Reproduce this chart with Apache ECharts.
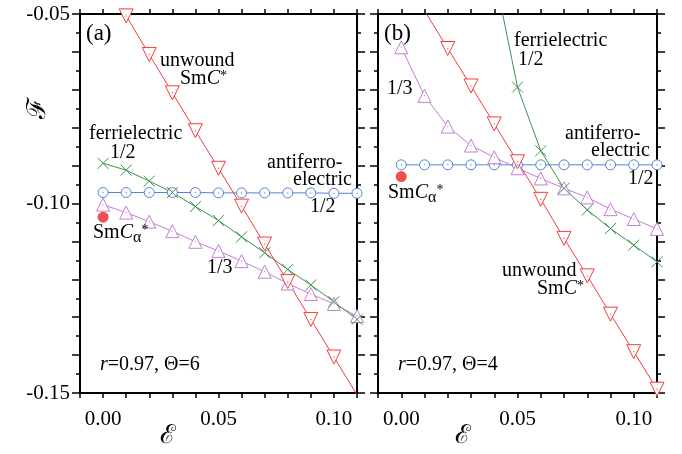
<!DOCTYPE html>
<html>
<head>
<meta charset="utf-8">
<script src="https://cdn.jsdelivr.net/npm/echarts@6/dist/echarts.min.js"></script>
<style>
  html, body { margin: 0; padding: 0; background: #fff; }
  #chart { width: 682px; height: 454px; }
</style>
</head>
<body>
<div id="chart"></div>
<script type="text/javascript">
    // field values E (x) and free energy F (y)
    var eps = [0.00, 0.01, 0.02, 0.03, 0.04, 0.05, 0.06, 0.07, 0.08, 0.09, 0.10, 0.11];

    // panel (a): r=0.97, Theta=6
    var aUnwound = [null, -0.0505, -0.0607, -0.0708, -0.0808, -0.0907, -0.1007, -0.1107, -0.1206, -0.1306, -0.1405, -0.1505];
    var aFerri   = [-0.0894, -0.0912, -0.0941, -0.0971, -0.1008, -0.1045, -0.1088, -0.1130, -0.1174, -0.1215, -0.1259, -0.1306];
    var aAnti    = [-0.0971, -0.0971, -0.0971, -0.0971, -0.0971, -0.0972, -0.0972, -0.0972, -0.0972, -0.0972, -0.0973, -0.0973];
    var aThird   = [-0.1003, -0.1024, -0.1048, -0.1073, -0.1101, -0.1125, -0.1152, -0.1180, -0.1211, -0.1239, -0.1265, -0.1297];
    var aAlpha   = [[0.00, -0.1036]];

    // panel (b): r=0.97, Theta=4
    var bUnwound = [null, -0.0491, -0.0591, -0.0690, -0.0790, -0.0890, -0.0989, -0.1092, -0.1191, -0.1292, -0.1391, -0.1490];
    var bFerri   = [null, null, null, null, -0.0391, -0.0693, -0.0861, -0.0960, -0.1017, -0.1066, -0.1110, -0.1154];
    var bAnti    = [-0.0898, -0.0898, -0.0898, -0.0898, -0.0898, -0.0898, -0.0898, -0.0898, -0.0898, -0.0898, -0.0898, -0.0898];
    var bThird   = [-0.0588, -0.0716, -0.0797, -0.0847, -0.0878, -0.0907, -0.0934, -0.0960, -0.0984, -0.1015, -0.1041, -0.1067];
    var bAlpha   = [[0.00, -0.0929]];

    var xLabels = ['0.00', '0.05', '0.10'];
    var yLabels = ['-0.05', '-0.10', '-0.15'];

    var RED = '#f43c3c', GREEN = '#3c9250', BLUE = '#5584d6', PURPLE = '#c47ed2';
    var FONT = '"Liberation Serif", "DejaVu Serif", serif';

    function pairs(ys) {
        var out = [];
        for (var i = 0; i < eps.length; i++) {
            out.push(ys[i] === null ? [eps[i], '-'] : [eps[i], ys[i]]);
        }
        return out;
    }

    var CROSS = 'path://M0,0L10,10M10,0L0,10';

    function curve(idx, ys, color, symbol, size, rotate) {
        var hollow = symbol !== CROSS;
        return [{
            type: 'line',
            xAxisIndex: idx, yAxisIndex: idx,
            data: pairs(ys),
            clip: true,
            symbol: symbol,
            symbolSize: size,
            symbolRotate: rotate || 0,
            connectNulls: false,
            lineStyle: { color: color, width: 1 },
            itemStyle: { color: hollow ? '#fff' : 'none', borderColor: color, borderWidth: 1 },
            emphasis: { disabled: true },
            z: 3
        }, {
            // little centre dots in the open symbols
            type: 'scatter',
            xAxisIndex: idx, yAxisIndex: idx,
            data: hollow ? pairs(ys) : [],
            clip: true,
            symbol: 'circle',
            symbolSize: 1.5,
            itemStyle: { color: color },
            silent: true,
            z: 4
        }];
    }

    function xAxes(idx) {
        var base = {
            type: 'value', gridIndex: idx, min: -0.01, max: 0.11, interval: 0.01,
            axisLine: { show: true, onZero: false, lineStyle: { color: '#000', width: 2 } },
            axisTick: { show: true, inside: false, length: 5, lineStyle: { color: '#000', width: 1.5 } },
            splitLine: { show: false }
        };
        var bottom = echarts.util.merge({
            position: 'bottom',
            axisLabel: {
                margin: 16, fontFamily: FONT, fontSize: 21, color: '#000',
                formatter: function (v) {
                    var s = (Math.round(v * 100) / 100).toFixed(2);
                    return xLabels.indexOf(s) >= 0 ? s : '';
                }
            }
        }, base, true);
        var top = echarts.util.merge({ position: 'top', axisLabel: { show: false } }, base, true);
        return [bottom, top];
    }

    function yAxes(idx) {
        var base = {
            type: 'value', gridIndex: idx, min: -0.15, max: -0.05, interval: 0.01,
            axisLine: { show: true, onZero: false, lineStyle: { color: '#000', width: 2 } },
            axisTick: { show: true, inside: false, length: 8, lineStyle: { color: '#000', width: 1.5 } },
            minorTick: { show: true, splitNumber: 2, length: 4, lineStyle: { color: '#000', width: 1.5 } },
            splitLine: { show: false }
        };
        var left = echarts.util.merge({
            position: 'left',
            axisLabel: {
                show: idx === 0, margin: 10, fontFamily: FONT, fontSize: 21, color: '#000',
                formatter: function (v) {
                    var s = (Math.round(v * 100) / 100).toFixed(2);
                    return yLabels.indexOf(s) >= 0 ? s : '';
                }
            }
        }, base, true);
        var right = echarts.util.merge({ position: 'right', axisLabel: { show: false } }, base, true);
        return [left, right];
    }

    var chart = echarts.init(document.getElementById('chart'), null, { renderer: 'canvas' });

    var xa = xAxes(0), xb = xAxes(1), ya = yAxes(0), yb = yAxes(1);
    // axes 0,1 = bottom/left of panels a,b ; axes 2,3 = top/right of panels a,b
    var xAxisList = [xa[0], xb[0], xa[1], xb[1]];
    var yAxisList = [ya[0], yb[0], ya[1], yb[1]];

    var series = [].concat(
        curve(0, aAnti, BLUE, 'circle', 10),
        curve(0, aThird, PURPLE, 'triangle', 13),
        curve(0, aFerri, GREEN, CROSS, 11),
        curve(0, aUnwound, RED, 'triangle', 14, 180),
        curve(1, bAnti, BLUE, 'circle', 10),
        curve(1, bThird, PURPLE, 'triangle', 13),
        curve(1, bFerri, GREEN, CROSS, 11),
        curve(1, bUnwound, RED, 'triangle', 14, 180),
        [{
            type: 'scatter', xAxisIndex: 0, yAxisIndex: 0, data: aAlpha,
            symbol: 'circle', symbolSize: 11, itemStyle: { color: '#ee2424' }, z: 5
        }, {
            type: 'scatter', xAxisIndex: 1, yAxisIndex: 1, data: bAlpha,
            symbol: 'circle', symbolSize: 11, itemStyle: { color: '#ee2424' }, z: 5
        }]
    );

    var rich = {
        n: { fontFamily: FONT, fontSize: 20, color: '#000' },
        big: { fontFamily: FONT, fontSize: 23, color: '#000' },
        i: { fontFamily: FONT, fontSize: 20, fontStyle: 'italic', color: '#000' },
        sup: { fontFamily: FONT, fontSize: 14, color: '#000', verticalAlign: 'top', padding: [0, 0, 8, 0] },
        sub: { fontFamily: FONT, fontSize: 16, color: '#000', padding: [9, 0, 0, 0] }
    };

    function txt(x, y, t) {
        return {
            type: 'text', left: x, top: y, z: 10,
            style: {
                text: t, rich: rich, align: 'left',
                fontFamily: FONT, fontSize: 20, fill: '#000', lineHeight: 20
            }
        };
    }

    function axisName(x, y, t, rot) {
        return {
            type: 'text', x: x, y: y, z: 10, rotation: rot || 0,
            style: {
                text: t, fontFamily: FONT, fontSize: 26, fill: '#000',
                align: 'center', verticalAlign: 'middle'
            }
        };
    }

    var graphics = [
        txt(86, 22, '{big|(a)}'),
        txt(160, 51, '{n|unwound}'),
        txt(180, 69, '{n|Sm}{i|C}{sup|*}'),
        txt(89, 124, '{n|ferrielectric}'),
        txt(110, 143, '{n|1/2}'),
        txt(267, 153, '{n|antiferro-}'),
        txt(293, 170, '{n|electric}'),
        txt(310, 197, '{n|1/2}'),
        txt(93, 223, '{n|Sm}{i|C}{sub|α}{sup|*}'),
        txt(207, 258, '{n|1/3}'),
        txt(100, 355, '{i|r}{n|=0.97, Θ=6}'),

        txt(384, 22, '{big|(b)}'),
        txt(514, 31, '{n|ferrielectric}'),
        txt(518, 50, '{n|1/2}'),
        txt(387, 79, '{n|1/3}'),
        txt(565, 124, '{n|antiferro-}'),
        txt(591, 141, '{n|electric}'),
        txt(628, 169, '{n|1/2}'),
        txt(388, 183, '{n|Sm}{i|C}{sub|α}{sup|*}'),
        txt(502, 261, '{n|unwound}'),
        txt(537, 279, '{n|Sm}{i|C}{sup|*}'),
        txt(398, 355, '{i|r}{n|=0.97, Θ=4}'),

        axisName(168, 436, 'ℰ'),
        axisName(463, 436, 'ℰ'),
        axisName(38, 108, 'ℱ', Math.PI / 2)
    ];

    chart.setOption({
        animation: false,
        backgroundColor: '#fff',
        grid: [
            { left: 80, top: 14, width: 277, height: 379, containLabel: false, outerBoundsMode: 'none' },
            { left: 378, top: 14, width: 279, height: 379, containLabel: false, outerBoundsMode: 'none' }
        ],
        xAxis: xAxisList,
        yAxis: yAxisList,
        series: series,
        graphic: graphics
    });
</script>
</body>
</html>
